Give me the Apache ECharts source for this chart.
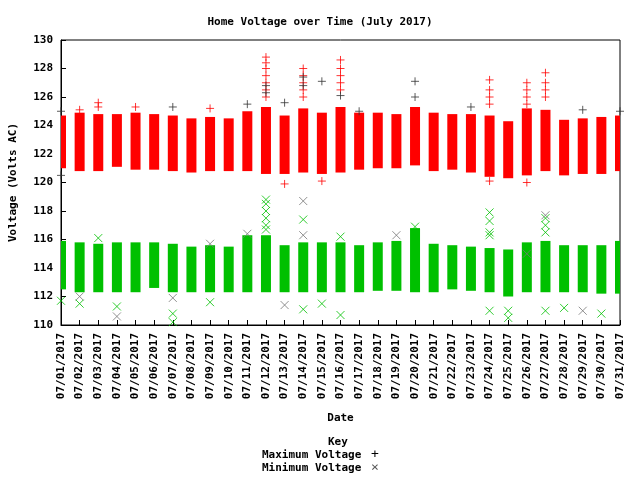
<!DOCTYPE html>
<html>
<head>
<meta charset="UTF-8">
<title>Home Voltage</title>
<script src="https://cdn.jsdelivr.net/npm/echarts@6/dist/echarts.min.js"></script>
<style>body{margin:0}#chart{width:640px;height:480px}</style>
</head>
<body>
<div id="chart"></div>
<script>
var days = [];
for (var d = 1; d <= 31; d++) days.push(d);
// dense band of maximum voltage readings per day (low, high)
var maxLow  = [121.0,120.8,120.8,121.1,120.9,120.9,120.8,120.7,120.8,120.8,120.8,120.6,120.6,120.7,120.6,120.7,120.9,121.0,121.0,121.2,120.8,120.9,120.7,120.4,120.3,120.5,120.8,120.5,120.6,120.6,120.8];
var maxHigh = [124.7,124.9,124.8,124.8,124.9,124.8,124.7,124.5,124.6,124.5,125.0,125.3,124.7,125.2,124.9,125.3,124.9,124.9,124.8,125.3,124.9,124.8,124.8,124.7,124.3,125.2,125.1,124.4,124.5,124.6,124.7];
// dense band of minimum voltage readings per day
var minLow  = [112.5,112.3,112.3,112.3,112.3,112.6,112.3,112.3,112.3,112.3,112.3,112.3,112.3,112.3,112.3,112.3,112.3,112.4,112.4,112.3,112.3,112.5,112.4,112.3,112.0,112.3,112.3,112.3,112.3,112.2,112.2];
var minHigh = [115.9,115.8,115.7,115.8,115.8,115.8,115.7,115.5,115.6,115.5,116.3,116.3,115.6,115.8,115.8,115.8,115.6,115.8,115.9,116.8,115.7,115.6,115.5,115.4,115.3,115.8,115.9,115.6,115.6,115.6,115.9];
// scattered readings outside the bands [day, volts]
var maxOut = [[3,125.3],[3,125.6],[5,125.3],[12,126],[12,126.5],[12,127],[12,127.5],[12,128],[12,128.4],[12,128.8],[14,126],[14,126.5],[14,127],[14,127.5],[14,128],[16,126.5],[16,127],[16,127.5],[16,128],[16,128.6],[24,125.5],[24,126],[24,126.5],[24,127.2],[26,125.5],[26,126],[26,126.5],[26,127],[27,126],[27,126.5],[27,127],[27,127.7],[13,119.9],[15,120.1],[24,120.1],[26,120.0],[9,125.2],[2,125.1]];
var maxOutKey = [[1,125.0],[7,125.3],[11,125.5],[12,126.3],[12,126.8],[13,125.6],[14,126.8],[14,127.4],[15,127.1],[20,127.1],[20,126.0],[23,125.3],[29,125.1],[31,125.0],[16,126.1],[17,125.0],[1,120.5]];
var minOut = [[3,116.1],[12,116.7],[12,117.0],[12,117.5],[12,118.0],[12,118.5],[12,118.8],[14,117.4],[16,116.2],[24,116.3],[24,116.5],[24,117.3],[24,117.9],[27,116.5],[27,117.0],[27,117.5],[20,116.9],[4,111.3],[7,110.8],[7,110.2],[14,111.1],[15,111.5],[16,110.7],[24,111.0],[25,110.5],[25,111.0],[27,111.0],[30,110.8],[9,111.6],[2,111.5],[1,111.7],[28,111.2]];
var minOutKey = [[14,118.7],[14,116.3],[4,110.6],[7,111.9],[26,115.0],[19,116.3],[29,111.0],[9,115.7],[27,117.7],[11,116.4],[13,111.4],[2,112.0]];

var plusPath = 'path://M5,0L5,10M0,5L10,5';
var xPath = 'path://M0,0L10,10M10,0L0,10';
function bandData(lo, hi) { return days.map(function (d, i) { return [d, lo[i], hi[i]]; }); }
function band(lo, hi, color) {
  return {
    type: 'custom', data: bandData(lo, hi), silent: true, clip: true,
    renderItem: function (params, api) {
      var a = api.coord([api.value(0), api.value(1)]);
      var b = api.coord([api.value(0), api.value(2)]);
      var rect = echarts.graphic.clipRectByRect(
        { x: a[0] - 5, y: b[1], width: 10, height: a[1] - b[1] },
        { x: params.coordSys.x, y: params.coordSys.y, width: params.coordSys.width, height: params.coordSys.height });
      return rect && { type: 'rect', shape: rect, style: { fill: color } };
    }
  };
}
function pts(data, sym, color) {
  return { type: 'scatter', data: data, symbol: sym, symbolSize: 8, silent: true,
    itemStyle: { color: 'none', borderColor: color, borderWidth: 1 } };
}
var font = 'DejaVu Sans Mono';
var chart = echarts.init(document.getElementById('chart'));
chart.setOption({
  animation: false,
  backgroundColor: '#fff',
  textStyle: { fontFamily: font, fontWeight: 'bold', color: '#000' },
  title: { text: 'Home Voltage over Time (July 2017)', left: 'center', top: 12,
    textStyle: { fontFamily: font, fontSize: 11, fontWeight: 'bold', color: '#000' } },
  grid: { left: 58, right: 20, top: 40, bottom: 155, show: true, borderColor: '#000', borderWidth: 1 },
  xAxis: {
    type: 'value', min: 1, max: 31, interval: 1,
    name: 'Date', nameLocation: 'middle', nameGap: 88,
    nameTextStyle: { fontFamily: font, fontSize: 11, fontWeight: 'bold', color: '#000' },
    axisLine: { lineStyle: { color: '#000' } },
    axisTick: { inside: true, length: 5, lineStyle: { color: '#000' } },
    splitLine: { show: false },
    axisLabel: { rotate: 90, fontFamily: font, fontSize: 11, fontWeight: 'bold', color: '#000',
      formatter: function (v) { return '07/' + (v < 10 ? '0' : '') + v + '/2017'; } }
  },
  yAxis: {
    type: 'value', min: 110, max: 130, interval: 2,
    name: 'Voltage (Volts AC)', nameLocation: 'middle', nameGap: 42,
    nameTextStyle: { fontFamily: font, fontSize: 11, fontWeight: 'bold', color: '#000' },
    axisLine: { lineStyle: { color: '#000' } },
    axisTick: { inside: true, length: 5, lineStyle: { color: '#000' } },
    splitLine: { show: false },
    axisLabel: { fontFamily: font, fontSize: 11, fontWeight: 'bold', color: '#000' }
  },
  graphic: [
    { type: 'text', left: 328, top: 437, style: { text: 'Key', font: 'bold 11px ' + font, fill: '#000' } },
    { type: 'text', left: 262, top: 450, style: { text: 'Maximum Voltage', font: 'bold 11px ' + font, fill: '#000' } },
    { type: 'text', left: 262, top: 463, style: { text: 'Minimum Voltage', font: 'bold 11px ' + font, fill: '#000' } },
    { type: 'text', left: 371, top: 448, style: { text: '+', font: '13px ' + font, fill: '#000' } },
    { type: 'text', left: 371, top: 461, style: { text: '×', font: '13px ' + font, fill: '#555' } }
  ],
  series: [
    band(maxLow, maxHigh, '#ff0000'),
    band(minLow, minHigh, '#00c000'),
    pts(maxOut, plusPath, '#ff0000'),
    pts(maxOutKey, plusPath, '#333'),
    pts(minOut, xPath, '#00c000'),
    pts(minOutKey, xPath, '#777')
  ]
});
</script>
</body>
</html>
